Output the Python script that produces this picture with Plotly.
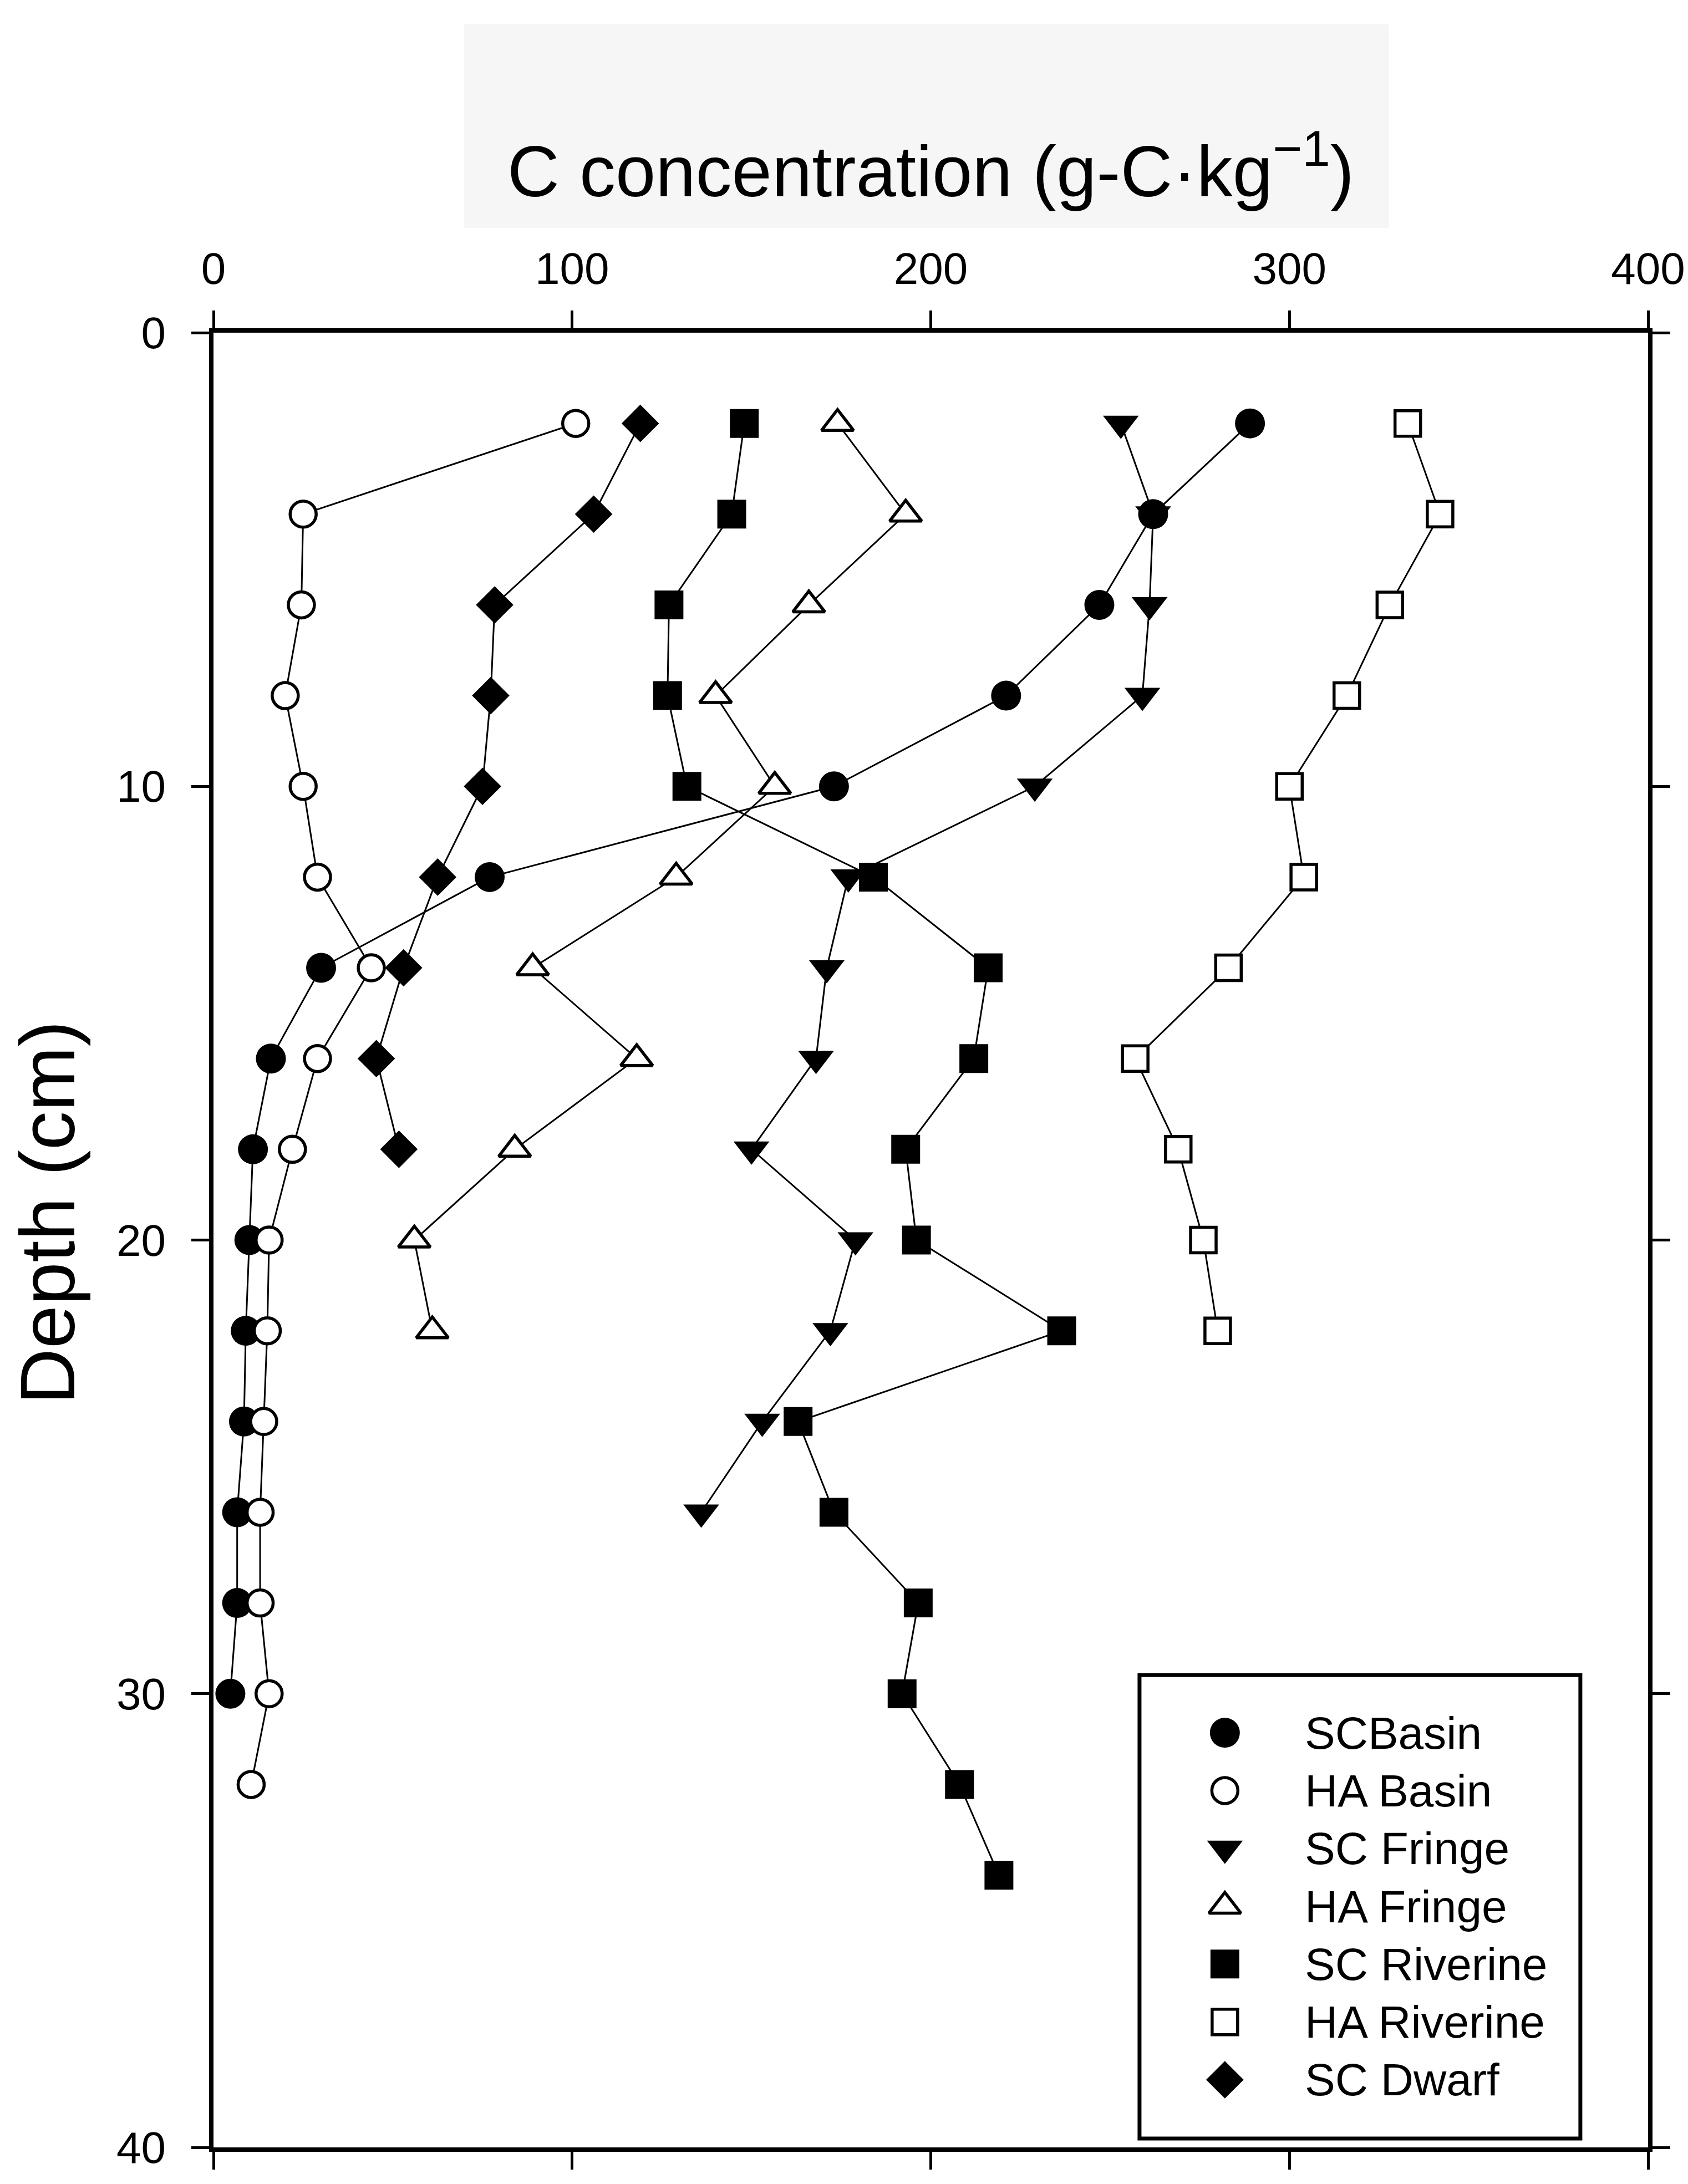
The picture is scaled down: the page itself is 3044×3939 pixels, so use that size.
import plotly.graph_objects as go

# depth (cm) and C concentration (g-C/kg) per site
sc_basin_depth = [2, 4, 6, 8, 10, 12, 14, 16, 18, 20, 22, 24, 26, 28, 30]
sc_basin_c = [289, 262, 247, 221, 173, 77, 30, 16, 11, 10, 9, 8.5, 6.6, 6.6, 4.7]

ha_basin_depth = [2, 4, 6, 8, 10, 12, 14, 16, 18, 20, 22, 24, 26, 28, 30, 32]
ha_basin_c = [101, 25, 24.5, 20, 25, 29, 44, 29, 22, 15.5, 15, 14, 13, 13, 15.5, 10.5]

sc_fringe_depth = [2, 4, 6, 8, 10, 12, 14, 16, 18, 20, 22, 24, 26]
sc_fringe_c = [253, 262, 261, 259, 229, 177, 171, 168, 150, 179, 172, 153, 136]

ha_fringe_depth = [2, 4, 6, 8, 10, 12, 14, 16, 18, 20, 22]
ha_fringe_c = [174, 193, 166, 140, 156.5, 129, 89, 118, 84, 56, 61]

sc_riverine_depth = [2, 4, 6, 8, 10, 12, 14, 16, 18, 20, 22, 24, 26, 28, 30, 32, 34]
sc_riverine_c = [148, 144.5, 127, 126.6, 132, 184, 216, 212, 193, 196, 236.5,
                 163, 173, 196.5, 192, 208, 219]

ha_riverine_depth = [2, 4, 6, 8, 10, 12, 14, 16, 18, 20, 22]
ha_riverine_c = [333, 342, 328, 316, 300, 304, 283, 257, 269, 276, 280]

sc_dwarf_depth = [2, 4, 6, 8, 10, 12, 14, 16, 18]
sc_dwarf_c = [119, 106, 78.4, 77.3, 75, 62.5, 53, 45.4, 51.7]

names = ["SCBasin", "HA Basin", "SC Fringe", "HA Fringe",
         "SC Riverine", "HA Riverine", "SC Dwarf"]

x_ticks = [0, 100, 200, 300, 400]
y_ticks = [0, 10, 20, 30, 40]

FONT = "Liberation Sans, Arial, sans-serif"

series = [
    (sc_basin_c, sc_basin_depth, "circle", True, 54),
    (ha_basin_c, ha_basin_depth, "circle", False, 47),
    (sc_fringe_c, sc_fringe_depth, "triangle-down", True, 56),
    (ha_fringe_c, ha_fringe_depth, "triangle-up", False, 50),
    (sc_riverine_c, sc_riverine_depth, "square", True, 52),
    (ha_riverine_c, ha_riverine_depth, "square", False, 46),
    (sc_dwarf_c, sc_dwarf_depth, "diamond", True, 52),
]


def marker_style(symbol, filled, size):
    if filled:
        return dict(symbol=symbol, size=size, color="black",
                    line=dict(width=0))
    return dict(symbol=symbol, size=size, color="white",
                line=dict(width=5.5, color="black"))


fig = go.Figure()

for i in range(len(series)):
    xs, ys, sym, filled, size = series[i]
    fig.add_trace(
        go.Scatter(
            x=xs,
            y=ys,
            name=names[i],
            mode="lines+markers",
            line=dict(color="black", width=3),
            marker=marker_style(sym, filled, size),
            showlegend=False,
        )
    )

# hand-made legend (plotly caps legend symbols at 16px)
leg_x = 0.705
leg_top = 0.2285
leg_step = 0.03187
for i in range(len(series)):
    xs, ys, sym, filled, size = series[i]
    fig.add_trace(
        go.Scatter(
            x=[leg_x],
            y=[leg_top - i * leg_step],
            mode="markers",
            marker=marker_style(sym, filled, size),
            xaxis="x2",
            yaxis="y2",
            showlegend=False,
            hoverinfo="skip",
        )
    )
    fig.add_annotation(
        x=0.760, y=leg_top - i * leg_step,
        xref="paper", yref="paper",
        xanchor="left", yanchor="middle",
        text=names[i], showarrow=False,
        font=dict(family=FONT, size=82, color="black"),
    )

axis_common = dict(
    showline=True,
    linewidth=8,
    linecolor="black",
    mirror="ticks",
    ticks="outside",
    ticklen=32,
    tickwidth=5,
    tickcolor="black",
    showgrid=False,
    zeroline=False,
    tickfont=dict(family=FONT, size=80, color="black"),
)

fig.update_layout(
    width=3044,
    height=3939,
    margin=dict(l=377, r=80, t=592, b=74),
    paper_bgcolor="white",
    plot_bgcolor="white",
    xaxis=dict(
        side="top",
        range=[0, 400],
        tickvals=x_ticks,
        ticklabelstandoff=16,
        **axis_common
    ),
    yaxis=dict(
        range=[40, 0],
        tickvals=y_ticks,
        ticklabelstandoff=30,
        **axis_common
    ),
    xaxis2=dict(range=[0, 1], overlaying="x", anchor="y2", visible=False),
    yaxis2=dict(range=[0, 1], overlaying="y", anchor="x2", visible=False),
    shapes=[
        dict(type="rect", xref="paper", yref="paper",
             x0=0.1747, x1=0.8195, y0=1.0577, y1=1.1699,
             fillcolor="#f6f6f6", line=dict(width=0), layer="below"),
        dict(type="rect", xref="paper", yref="paper",
             x0=0.6455, x1=0.9528, y0=0.0049, y1=0.2603,
             line=dict(color="black", width=7), layer="above"),
    ],
)

fig.add_annotation(
    x=0.5, y=1.0663, xref="paper", yref="paper",
    xanchor="center", yanchor="bottom",
    text="C concentration (g-C·kg<sup>−1</sup>)", showarrow=False,
    borderpad=0,
    font=dict(family=FONT, size=130, color="black"),
)

fig.add_annotation(
    x=-0.116, y=0.515, xref="paper", yref="paper",
    xanchor="center", yanchor="middle", textangle=-90,
    text="Depth (cm)", showarrow=False,
    font=dict(family=FONT, size=140, color="black"),
)

fig.write_html("out.html")
